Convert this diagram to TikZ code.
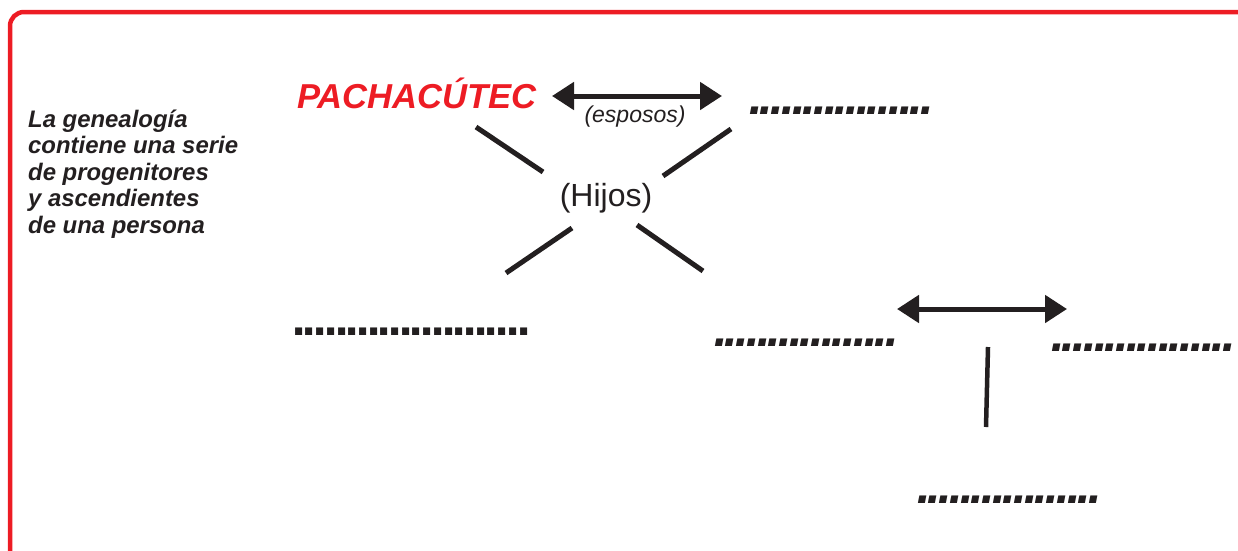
\documentclass[tikz,border=0pt]{standalone}
\usepackage{fontspec}
\setmainfont{Liberation Sans}
\newfontfamily\dotfont{DejaVu Sans}
\usetikzlibrary{arrows.meta}
\definecolor{myred}{HTML}{ED1C24}
\definecolor{ink}{HTML}{231F20}
\newcommand\dotrun[1]{\foreach \i in {1,...,#1}{\hbox to 10.7pt{.\hss}}}
\tikzset{
  bar/.style={ink, line width=5pt},
  dbl/.style={ink, line width=5pt, {Triangle[length=22pt,width=27pt]}-{Triangle[length=22pt,width=27pt]}},
  dotrow/.style={anchor=base west, inner sep=0pt, text=ink, font=\fontsize{40}{44}\dotfont\bfseries\itshape},
  dotrowup/.style={anchor=base west, inner sep=0pt, text=ink, font=\fontsize{40}{44}\dotfont\bfseries},
}
\begin{document}
\begin{tikzpicture}[x=1pt,y=-1pt]
\useasboundingbox (0,0) rectangle (1238,550);
\begin{scope}
\clip (0,0) rectangle (1238,550);
\draw[myred, line width=4.5pt, rounded corners=14pt] (10,12) rectangle (1252,575);
\end{scope}

\node[anchor=base west, align=left, inner sep=0pt, text=ink,
      font=\fontsize{23.9}{26.5}\selectfont\bfseries\itshape] (intro) at (28,233)
  {La genealogía\\contiene una serie\\de progenitores\\y ascendientes\\de una persona};

\node[anchor=base west, inner sep=0pt, text=myred,
      font=\fontsize{34.6}{40}\selectfont\bfseries\itshape] (pacha) at (297,108) {PACHACÚTEC};

\coordinate (a1l) at (552,96);
\coordinate (a1r) at (722,96);
\draw[dbl] (a1l) -- (a1r);
\node[text=ink, inner sep=0pt, font=\fontsize{23}{26}\selectfont\itshape] (esp) at (635,117) {(esposos)};

\node[text=ink, inner sep=0pt, font=\fontsize{32}{36}\selectfont] (hijos) at (606,198) {(Hijos)};

\coordinate (ul1) at (476,127); \coordinate (ul2) at (543,172);
\coordinate (ur1) at (731,129); \coordinate (ur2) at (663,176);
\coordinate (ll1) at (572,228); \coordinate (ll2) at (506,273);
\coordinate (lr1) at (637,225); \coordinate (lr2) at (703,271);
\draw[bar] (ul1) -- (ul2);
\draw[bar] (ur1) -- (ur2);
\draw[bar] (ll1) -- (ll2);
\draw[bar] (lr1) -- (lr2);

\node[dotrow] (d1) at (748,114) {\dotrun{17}};
\node[dotrowup] (d2) at (291,335) {\dotrun{22}};
\node[dotrow] (d3) at (713,346) {\dotrun{17}};
\node[dotrow] (d4) at (1050,351) {\dotrun{17}};
\node[dotrow] (d5) at (916,503) {\dotrun{17}};

\coordinate (a2l) at (897,309);
\coordinate (a2r) at (1067,309);
\draw[dbl] (a2l) -- (a2r);

\coordinate (v1) at (988,347);
\coordinate (v2) at (986,427);
\draw[ink, line width=4.5pt] (v1) -- (v2);
\end{tikzpicture}
\end{document}
